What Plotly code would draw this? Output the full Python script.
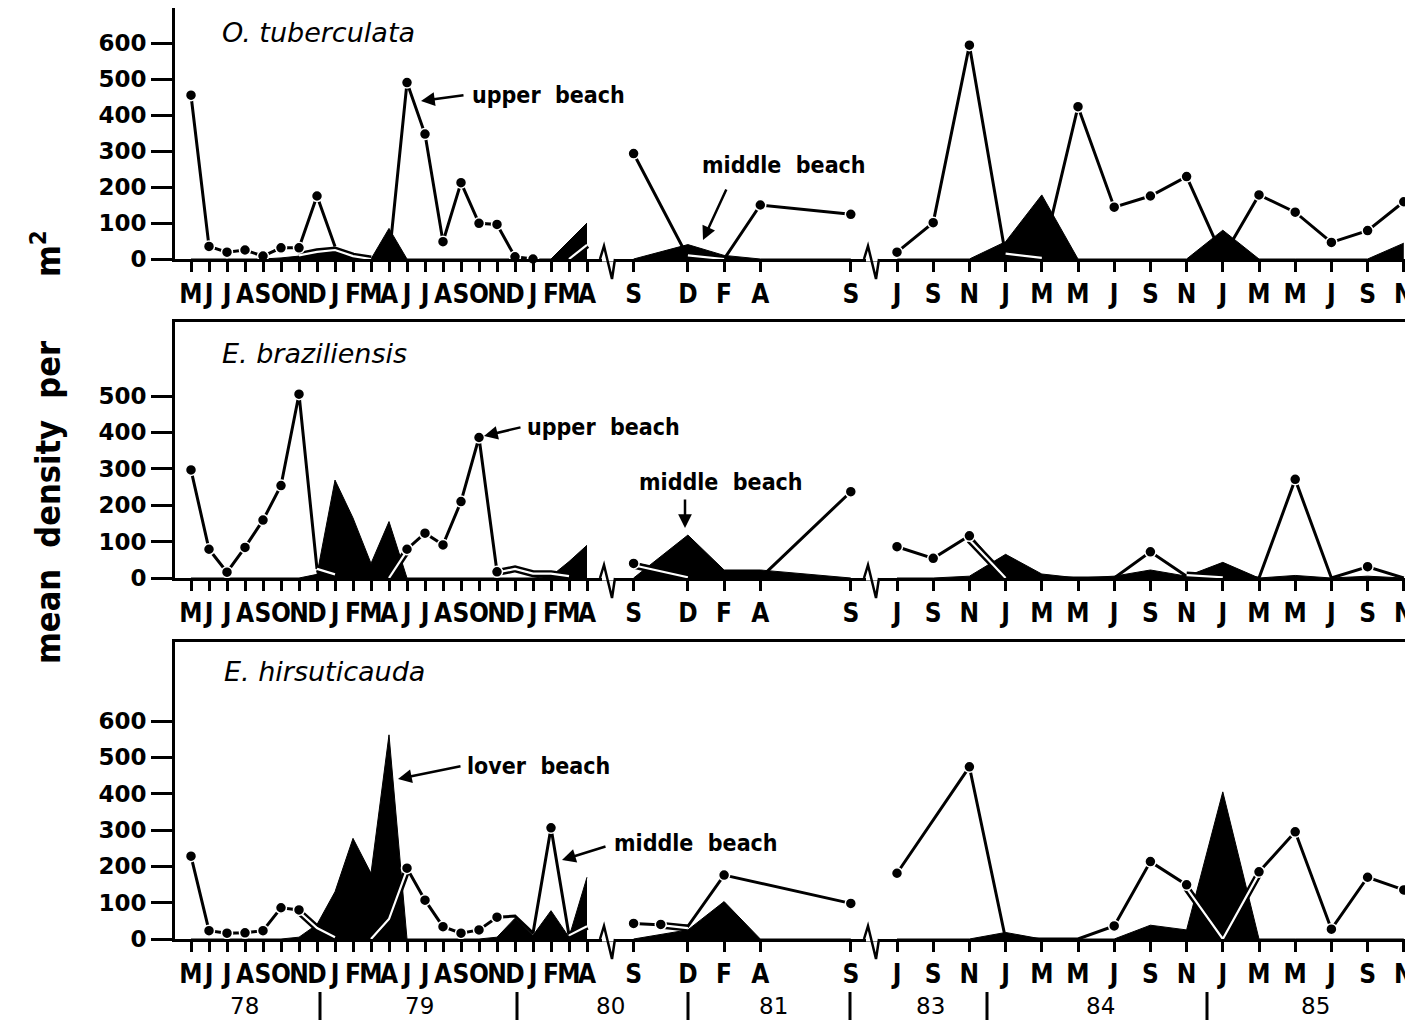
import plotly.graph_objects as go

# the page body adds an 8px margin: the figure is sized to the remaining window
OFF = 8
W, H = 1413 - OFF, 1025 - OFF

# ---------------- tick labels / categories ----------------
SEG1_LABELS = ["M", "J", "J", "A", "S", "O", "N", "D", "J", "F", "M", "A",
               "J", "J", "A", "S", "O", "N", "D", "J", "F", "M", "A"]
SEG2_TICK_MONTHS = [0, 3, 5, 7, 12]          # months after Sep 1980
SEG2_LABELS = ["S", "D", "F", "A", "S"]
SEG3_LABELS = ["J", "S", "N", "J", "M", "M", "J", "S", "N", "J", "M", "M", "J", "S", "N"]
YEAR_LABELS = ["78", "79", "80", "81", "83", "84", "85"]
SPECIES = ["O. tuberculata", "E. braziliensis", "E. hirsuticauda"]
Y_TICKS_P1 = [0, 100, 200, 300, 400, 500, 600]
Y_TICKS_P2 = [0, 100, 200, 300, 400, 500]
Y_TICKS_P3 = [0, 100, 200, 300, 400, 500, 600]

# sample months of segment 2 (months after Sep 1980)
SEG2_MONTHS_P12 = [0, 3, 5, 7, 12]
SEG2_MONTHS_P3 = [0, 1.5, 3, 5, 7, 12]

# ---------------- O. tuberculata ----------------
P1_UP_1 = [455, 35, 19, 25, 8, 31, 31, 175, 35, None, None, 0, 490, 347, 48, 212, 99, 96, 6, 0, None, None, None]
P1_UP_1_NODOT = [8, 11]
P1_MID_1 = [None, None, None, None, None, None, 10, 20, 25, 8, 0, None, None, None, None, None, None, None, None, None, None, 0, 39]
P1_LOW_1 = [0, 0, 0, 0, 0, 3, 8, 20, 15, 5, 0, 85, 0, 0, 0, 0, 0, 0, 0, 0, 0, 50, 100]
P1_UP_2 = [293, 5, 0, 150, 124]
P1_UP_2_NODOT = [1, 2]
P1_MID_2 = [None, 10, 0, None, None]
P1_LOW_2 = [0, 40, 10, 0, 0]
P1_UP_3 = [19, 101, 594, 10, 0, 423, 144, 175, 229, 5, 178, 130, 46, 79, 159]
P1_UP_3_NODOT = [3, 4, 9]
P1_MID_3 = [None, None, None, 15, 3, None, None, None, None, None, None, None, None, None, None]
P1_LOW_3 = [0, 0, 0, 48, 178, 0, 0, 0, 0, 80, 0, 0, 0, 0, 44]

# ---------------- E. braziliensis ----------------
P2_UP_1 = [297, 79, 16, 84, 159, 254, 505, 25, None, None, None, 0, 79, 123, 91, 210, 386, 17, None, None, None, None, None]
P2_UP_1_NODOT = [7, 11]
P2_MID_1 = [None, None, None, None, None, None, None, 25, 10, None, None, 0, 75, None, None, None, None, 15, 25, 12, 12, 5, None]
P2_LOW_1 = [0, 0, 0, 0, 0, 0, 0, 10, 269, 165, 40, 155, 0, 0, 0, 0, 0, 0, 0, 0, 5, 45, 90]
P2_UP_2 = [40, 5, 0, 0, 237]
P2_UP_2_NODOT = [1, 2, 3]
P2_MID_2 = [35, 2, None, None, None]
P2_LOW_2 = [0, 118, 22, 22, 0]
P2_UP_3 = [86, 54, 116, 0, None, None, 0, 72, 5, None, 0, 271, 0, 31, 0]
P2_UP_3_NODOT = [3, 6, 8, 10, 12, 14]
P2_MID_3 = [None, None, 105, 0, None, None, None, None, 8, 2, None, None, None, None, None]
P2_LOW_3 = [0, 0, 5, 65, 11, 0, 5, 22, 5, 43, 0, 7, 0, 5, 0]

# ---------------- E. hirsuticauda ----------------
P3_UP_1 = [228, 23, 16, 17, 23, 86, 80, 30, None, None, None, None, 195, 107, 34, 16, 25, 60, 63, 16, 306, 10, None]
P3_UP_1_NODOT = [7, 18, 19, 21]
P3_MID_1 = [None, None, None, None, None, None, 75, 30, 5, None, 0, 55, 190, None, None, None, None, None, None, None, None, 10, 35]
P3_LOW_1 = [0, 0, 0, 0, 0, 0, 5, 40, 130, 277, 181, 562, 0, 0, 0, 0, 0, 5, 57, 10, 78, 5, 170]
P3_UP_2 = [43, 40, 35, 176, None, 98]
P3_UP_2_NODOT = [2]
P3_MID_2 = [None, 38, 30, None, None, None]
P3_LOW_2 = [0, None, 25, 103, 0, 0]
P3_UP_3 = [181, None, 474, 0, None, 0, 36, 213, 149, 0, 185, 295, 27, 170, 135]
P3_UP_3_NODOT = [3, 5, 9]
P3_MID_3 = [None, None, None, None, None, None, None, None, 140, 0, 180, None, None, None, None]
P3_LOW_3 = [0, 0, 0, 18, 0, 0, 0, 38, 25, 405, 0, 0, 0, 0, 0]

# ---------------- layout scale (screen pixels) ----------------
X_LEFT, X_RIGHT = 175, 1413
def seg1_x(k): return 191 + 18.0 * k
def seg2_x(m): return 633.6 + 18.1 * m
def seg3_x(i): return 897 + 36.2 * i
def px_(sx): return (sx - OFF) / W          # screen x -> paper
def pp(sy): return 1 - (sy - OFF) / H       # screen y -> paper

FONT = "DejaVu Sans"
CFONT = "DejaVu Sans Condensed, DejaVu Sans"

PANELS = [
    dict(base=259, top=8, ppu=0.36, yt=Y_TICKS_P1,
         segs=[(P1_UP_1, P1_UP_1_NODOT, P1_MID_1, P1_LOW_1, [seg1_x(k) for k in range(len(SEG1_LABELS))], False),
               (P1_UP_2, P1_UP_2_NODOT, P1_MID_2, P1_LOW_2, [seg2_x(m) for m in SEG2_MONTHS_P12], True),
               (P1_UP_3, P1_UP_3_NODOT, P1_MID_3, P1_LOW_3, [seg3_x(i) for i in range(len(SEG3_LABELS))], True)]),
    dict(base=578, top=322, ppu=0.364, yt=Y_TICKS_P2,
         segs=[(P2_UP_1, P2_UP_1_NODOT, P2_MID_1, P2_LOW_1, [seg1_x(k) for k in range(len(SEG1_LABELS))], False),
               (P2_UP_2, P2_UP_2_NODOT, P2_MID_2, P2_LOW_2, [seg2_x(m) for m in SEG2_MONTHS_P12], True),
               (P2_UP_3, P2_UP_3_NODOT, P2_MID_3, P2_LOW_3, [seg3_x(i) for i in range(len(SEG3_LABELS))], True)]),
    dict(base=939, top=642, ppu=0.3633, yt=Y_TICKS_P3,
         segs=[(P3_UP_1, P3_UP_1_NODOT, P3_MID_1, P3_LOW_1, [seg1_x(k) for k in range(len(SEG1_LABELS))], False),
               (P3_UP_2, P3_UP_2_NODOT, P3_MID_2, P3_LOW_2, [seg2_x(m) for m in SEG2_MONTHS_P3], True),
               (P3_UP_3, P3_UP_3_NODOT, P3_MID_3, P3_LOW_3, [seg3_x(i) for i in range(len(SEG3_LABELS))], True)]),
]

tickvals = ([seg1_x(k) for k in range(len(SEG1_LABELS))] +
            [seg2_x(m) for m in SEG2_TICK_MONTHS] +
            [seg3_x(i) for i in range(len(SEG3_LABELS))])
ticktext = SEG1_LABELS + SEG2_LABELS + SEG3_LABELS

fig = go.Figure()
layout = dict(width=W, height=H, margin=dict(l=0, r=0, t=0, b=0, autoexpand=False),
              paper_bgcolor="white", plot_bgcolor="white", showlegend=False)
shapes, annotations = [], []

for pi, P in enumerate(PANELS):
    sfx = "" if pi == 0 else str(pi + 1)
    xa, ya = "x" + sfx, "y" + sfx
    ytop = (P["base"] - P["top"]) / P["ppu"]
    layout["xaxis" + sfx] = dict(
        domain=[px_(X_LEFT), 1], range=[X_LEFT, X_RIGHT], anchor=ya,
        showline=True, linewidth=3, linecolor="black", mirror=True,
        ticks="outside", ticklen=10, tickwidth=3, tickcolor="black",
        tickvals=tickvals, ticktext=ticktext, tickangle=0, automargin=False,
        ticklabeloverflow="allow", showgrid=False, zeroline=False,
        tickfont=dict(family=CFONT, size=26, color="black", weight="bold"), fixedrange=True)
    layout["yaxis" + sfx] = dict(
        domain=[pp(P["base"]), pp(P["top"])], range=[0, ytop], anchor=xa,
        showline=True, linewidth=3, linecolor="black", automargin=False,
        ticks="outside", ticklen=21, tickwidth=3, tickcolor="black",
        tickvals=P["yt"], ticktext=[str(v) for v in P["yt"]], showgrid=False, zeroline=False,
        tickfont=dict(family=FONT, size=23, color="black", weight="bold"), fixedrange=True)

    for up, nodot, mid, low, xs, cg in P["segs"]:
        fig.add_trace(go.Scatter(x=xs, y=low, xaxis=xa, yaxis=ya, mode="lines", fill="tozeroy",
                                 fillcolor="black", line=dict(color="black", width=1),
                                 connectgaps=True, hoverinfo="skip"))
        fig.add_trace(go.Scatter(x=xs, y=up, xaxis=xa, yaxis=ya, mode="lines",
                                 line=dict(color="black", width=3), connectgaps=cg,
                                 cliponaxis=False, hoverinfo="skip"))
        fig.add_trace(go.Scatter(x=xs, y=mid, xaxis=xa, yaxis=ya, mode="lines",
                                 line=dict(color="black", width=7), connectgaps=False,
                                 cliponaxis=False, hoverinfo="skip"))
        fig.add_trace(go.Scatter(x=xs, y=mid, xaxis=xa, yaxis=ya, mode="lines",
                                 line=dict(color="white", width=2.2), connectgaps=False,
                                 cliponaxis=False, hoverinfo="skip"))
        dots = [None if (i in nodot) else v for i, v in enumerate(up)]
        fig.add_trace(go.Scatter(x=xs, y=dots, xaxis=xa, yaxis=ya, mode="markers",
                                 marker=dict(color="black", size=11, line=dict(color="white", width=1.5)),
                                 cliponaxis=False, hoverinfo="skip"))

    # axis breaks
    b = P["base"]
    for x0 in (603, 867):
        shapes.append(dict(type="rect", xref="paper", yref="paper",
                           x0=px_(x0 - 1), x1=px_(x0 + 12), y0=pp(b + 2.5), y1=pp(b - 2.5),
                           fillcolor="white", line=dict(width=0), layer="above"))
        shapes.append(dict(type="path", xref="paper", yref="paper", layer="above",
                           path="M {},{} L {},{} L {},{} L {},{}".format(
                               px_(x0 - 3), pp(b), px_(x0 + 1), pp(b - 13),
                               px_(x0 + 9), pp(b + 20), px_(x0 + 12), pp(b)),
                           line=dict(color="black", width=2.5)))

# species names
for name, (sx, sy) in zip(SPECIES, [(220, 33), (220, 353), (222, 671)]):
    annotations.append(dict(text=name, x=px_(sx), y=pp(sy), xref="paper", yref="paper",
                            xanchor="left", yanchor="middle", showarrow=False,
                            font=dict(family=FONT, size=27, color="black", style="italic")))

# curve labels with arrows
LABEL_TEXTS = ["upper  beach", "middle  beach", "upper  beach", "middle  beach", "lover  beach", "middle  beach"]
LABEL_POS = [(470, 95), (700, 165), (525, 427), (637, 482), (465, 766), (612, 843)]
ARROWS = [((465, 95), (421, 101)), ((727, 188), (703, 240)), ((522, 427), (484, 436)),
          ((685, 498), (685, 528)), ((462, 766), (398, 779)), ((607, 846), (562, 860))]
for t, (sx, sy) in zip(LABEL_TEXTS, LABEL_POS):
    annotations.append(dict(text=t, x=px_(sx), y=pp(sy), xref="paper", yref="paper",
                            xanchor="left", yanchor="middle", showarrow=False,
                            font=dict(family=CFONT, size=23, color="black", weight="bold")))
for (tx, ty), (hx, hy) in ARROWS:
    annotations.append(dict(text="", x=px_(hx), y=pp(hy), xref="paper", yref="paper",
                            ax=tx - hx, ay=ty - hy, showarrow=True, arrowhead=2,
                            arrowsize=1.1, arrowwidth=2.5, arrowcolor="black"))

# year row
for t, sx in zip(YEAR_LABELS, [245, 420, 610, 773, 930, 1100, 1315]):
    annotations.append(dict(text=t, x=px_(sx), y=pp(1006), xref="paper", yref="paper",
                            xanchor="center", yanchor="middle", showarrow=False,
                            font=dict(family=FONT, size=23, color="black")))
for sx in [320, 517, 688, 850, 987, 1207]:
    shapes.append(dict(type="line", xref="paper", yref="paper", x0=px_(sx), x1=px_(sx),
                       y0=pp(992), y1=pp(1020), line=dict(color="black", width=3)))

# y-axis title
annotations.append(dict(text="mean  density  per      m<sup>2</sup>", x=px_(46), y=pp(447),
                        xref="paper", yref="paper", textangle=-90, showarrow=False,
                        xanchor="center", yanchor="middle",
                        font=dict(family=CFONT, size=34, color="black", weight="bold")))

layout["shapes"] = shapes
layout["annotations"] = annotations
fig.update_layout(**layout)
fig.write_html("out.html")
